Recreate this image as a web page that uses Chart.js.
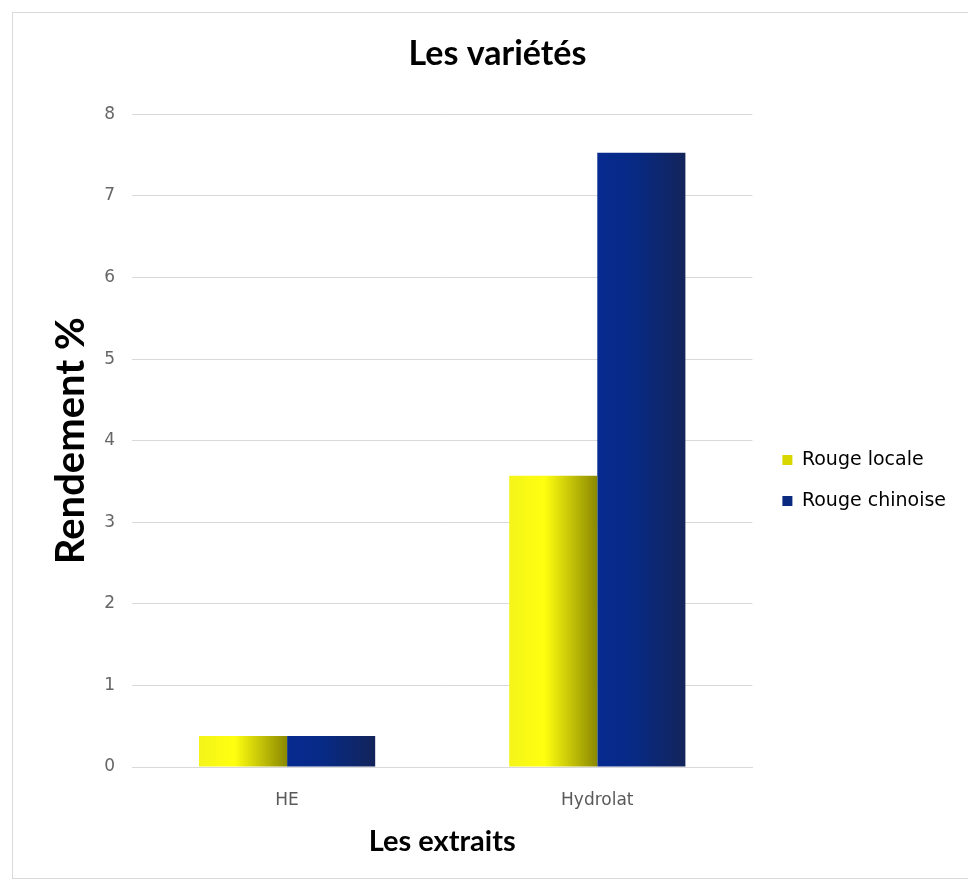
<!DOCTYPE html>
<html>
<head>
<meta charset="utf-8">
<script src="https://cdn.jsdelivr.net/npm/chart.js@4.4.1/dist/chart.umd.min.js"></script>
<style>
  html, body { margin: 0; padding: 0; background: #fff; overflow: hidden; }
  #frame {
    position: absolute; left: 12px; top: 12px; width: 970px; height: 867px;
    border: 1px solid #d9d9d9; box-sizing: border-box;
  }
  #wrap { position: absolute; left: 0; top: 0; width: 968px; height: 885px; }
</style>
</head>
<body>
<div id="frame"></div>
<div id="wrap"><canvas id="myChart"></canvas></div>
<script>
'use strict'
// data
let categories = ['HE', 'Hydrolat'];
let seriesNames = ['Rouge locale', 'Rouge chinoise'];
let rougeLocale = [0.38, 3.57];
let rougeChinoise = [0.38, 7.53];
let yTicks = [0, 1, 2, 3, 4, 5, 6, 7, 8];

// colours for the horizontal shading of each bar
let yellowStops = ['#f4f41a', '#ffff10', '#8a8800'];
let blueStops = ['#062a90', '#072a86', '#13245a'];

const catPct = 0.568;
const barPct = 1.0;

function barGradient(stops, dsIndex) {
  return function (context) {
    let chart = context.chart;
    let xs = chart.scales.x;
    if (!xs || !chart.chartArea) return stops[0];
    let center = xs.getPixelForValue(context.dataIndex);
    let catWidth = (xs.right - xs.left) / categories.length;
    let barWidth = catWidth * catPct * barPct / 2;
    let left = center - barWidth + dsIndex * barWidth;
    let g = chart.ctx.createLinearGradient(left, 0, left + barWidth, 0);
    g.addColorStop(0, stops[0]);
    g.addColorStop(0.4, stops[1]);
    g.addColorStop(1, stops[2]);
    return g;
  };
}

// nudge the legend a bit away from the plot, like the original
let nudgeX = 8;
let nudgeY = 34;
const legendNudge = {
  id: 'legendNudge',
  beforeDraw(chart) {
    let lg = chart.legend;
    lg.left += nudgeX; lg.right += nudgeX;
    lg.top += nudgeY; lg.bottom += nudgeY;
  },
  afterDraw(chart) {
    let lg = chart.legend;
    lg.left -= nudgeX; lg.right -= nudgeX;
    lg.top -= nudgeY; lg.bottom -= nudgeY;
  }
};

const ctx = document.getElementById('myChart');

new Chart(ctx, {
  type: 'bar',
  data: {
    labels: categories,
    datasets: [
      {
        label: seriesNames[0],
        data: rougeLocale,
        backgroundColor: barGradient(yellowStops, 0),
        borderWidth: 0
      },
      {
        label: seriesNames[1],
        data: rougeChinoise,
        backgroundColor: barGradient(blueStops, 1),
        borderWidth: 0
      }
    ]
  },
  plugins: [legendNudge],
  options: {
    responsive: true,
    maintainAspectRatio: false,
    animation: false,
    datasets: {
      bar: { categoryPercentage: catPct, barPercentage: barPct }
    },
    layout: {
      padding: { left: 47, right: 20, top: 34, bottom: 26 }
    },
    plugins: {
      title: {
        display: true,
        text: 'Les variétés',
        color: '#000',
        font: { family: 'Lato', size: 34, weight: 'bold' },
        padding: { top: 0, bottom: 39.6 }
      },
      legend: {
        position: 'right',
        labels: {
          boxWidth: 10,
          boxHeight: 10,
          padding: 22,
          color: '#666666',
          font: { family: 'DejaVu Sans', size: 19 },
          generateLabels: function (chart) {
            let solid = ['#d8d800', '#0a2a80'];
            return chart.data.datasets.map(function (ds, i) {
              return {
                text: ds.label,
                fillStyle: solid[i],
                strokeStyle: solid[i],
                lineWidth: 0,
                hidden: false,
                datasetIndex: i
              };
            });
          }
        }
      },
      tooltip: { enabled: false }
    },
    scales: {
      x: {
        afterFit: function (axis) {
          axis.height = 92;
        },
        grid: { display: false, drawTicks: false },
        border: { display: true, color: '#d9d9d9' },
        ticks: {
          color: '#595959',
          padding: 23,
          font: { family: 'DejaVu Sans', size: 17 }
        },
        title: {
          display: true,
          text: 'Les extraits',
          color: '#000',
          font: { family: 'Lato', size: 29, weight: 'bold' },
          padding: { top: 0, bottom: 0 }
        }
      },
      y: {
        min: 0,
        max: 8,
        afterBuildTicks: function (axis) {
          axis.ticks = yTicks.map(function (v) { return { value: v }; });
        },
        afterFit: function (axis) {
          axis.width = 85;
        },
        grid: { color: '#d9d9d9', drawTicks: false },
        border: { display: false },
        ticks: {
          color: '#666666',
          padding: 17,
          font: { family: 'DejaVu Sans', size: 17 }
        },
        title: {
          display: true,
          text: 'Rendement %',
          color: '#000',
          font: { family: 'Lato', size: 40, weight: 'bold' },
          padding: { top: 0, bottom: 0 }
        }
      }
    }
  }
});
</script>
</body>
</html>
